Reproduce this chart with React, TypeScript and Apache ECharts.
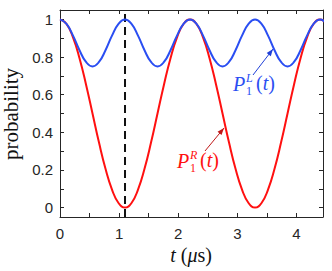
import React, { useEffect, useRef } from "react";
import * as echarts from "echarts";

// time samples (μs)
const T = [0, 0.11, 0.22, 0.33, 0.44, 0.55, 0.66, 0.77, 0.88, 0.99, 1.1, 1.21, 1.32, 1.43, 1.54, 1.65, 1.76, 1.87, 1.98, 2.09, 2.2, 2.31, 2.42, 2.53, 2.64, 2.75, 2.86, 2.97, 3.08, 3.19, 3.3, 3.41, 3.52, 3.63, 3.74, 3.85, 3.96, 4.07, 4.18, 4.29, 4.4, 4.51];
// P1^R(t)
const P_R = [1, 0.9755, 0.9045, 0.7939, 0.6545, 0.5, 0.3455, 0.2061, 0.0955, 0.0245, 0, 0.0245, 0.0955, 0.2061, 0.3455, 0.5, 0.6545, 0.7939, 0.9045, 0.9755, 1, 0.9755, 0.9045, 0.7939, 0.6545, 0.5, 0.3455, 0.2061, 0.0955, 0.0245, 0, 0.0245, 0.0955, 0.2061, 0.3455, 0.5, 0.6545, 0.7939, 0.9045, 0.9755, 1, 0.9755];
// P1^L(t)
const P_L = [1, 0.9761, 0.9136, 0.8364, 0.7739, 0.75, 0.7739, 0.8364, 0.9136, 0.9761, 1, 0.9761, 0.9136, 0.8364, 0.7739, 0.75, 0.7739, 0.8364, 0.9136, 0.9761, 1, 0.9761, 0.9136, 0.8364, 0.7739, 0.75, 0.7739, 0.8364, 0.9136, 0.9761, 1, 0.9761, 0.9136, 0.8364, 0.7739, 0.75, 0.7739, 0.8364, 0.9136, 0.9761, 1, 0.9761];
// dashed marker
const DASH_T = [1.1, 1.1];
const DASH_Y = [-0.05, 1.05];

const X_RANGE = [0, 4.45];
const Y_RANGE = [-0.05, 1.05];
const X_TICKS = [0, 0.5, 1, 1.5, 2, 2.5, 3, 3.5, 4];
const X_LABELS = [0, 1, 2, 3, 4];
const Y_TICKS = [0, 0.1, 0.2, 0.3, 0.4, 0.5, 0.6, 0.7, 0.8, 0.9, 1];
const Y_LABELS = [0, 0.2, 0.4, 0.6, 0.8, 1];

const AX = "#262626";
const RED = "#ff1010";
const BLUE = "#2a4ef2";
const SERIF = "'Liberation Serif', 'DejaVu Serif', serif";
const SANS = "'Liberation Sans', Arial, sans-serif";

function zip(a: number[], b: number[]) {
  return a.map((v, i) => [v, b[i]]);
}

function arrowHead(x1: number, y1: number, x2: number, y2: number, len: number, hw: number) {
  const dx = x2 - x1, dy = y2 - y1;
  const L = Math.hypot(dx, dy);
  const ux = dx / L, uy = dy / L;
  const bx = x2 - ux * len, by = y2 - uy * len;
  return [[x2, y2], [bx - uy * hw, by + ux * hw], [bx + uy * hw, by - ux * hw]];
}

function label(x: number, y: number, sup: string, color: string) {
  const els: any[] = [
    { type: "text", x: x, y: y, style: { text: "P", font: `italic 20px ${SERIF}`, fill: color, verticalAlign: "middle" } },
    { type: "text", x: x + 13, y: y - 6, style: { text: sup, font: `italic 12px ${SERIF}`, lineHeight: 12, fill: color, verticalAlign: "middle" } },
    { type: "text", x: x + 13, y: y + 7, style: { text: "1", font: `12px ${SERIF}`, lineHeight: 12, fill: color, verticalAlign: "middle" } },
    {
      type: "text", x: x + 23, y: y - 1,
      style: {
        text: "({i|t})", font: `20px ${SERIF}`, fill: color, verticalAlign: "middle",
        rich: { i: { font: `italic 20px ${SERIF}`, fill: color } },
      },
    },
  ];
  return els;
}

export default function App() {
  const ref = useRef<HTMLDivElement>(null);
  useEffect(() => {
    if (!ref.current) return;
    const chart = echarts.init(ref.current, null, { renderer: "svg" });
    const axisCommon = {
      type: "value" as const,
      axisLine: { show: true, onZero: false, lineStyle: { color: AX, width: 1 } },
      splitLine: { show: false },
    };
    const redArrow = [[205, 151], [224, 128]];
    const blueArrow = [[253, 75], [273, 49]];
    chart.setOption({
      animation: false,
      grid: { left: 60, right: 9, top: 10, bottom: 54 },
      xAxis: [
        {
          ...axisCommon, position: "bottom", min: X_RANGE[0], max: X_RANGE[1],
          axisTick: { show: true, inside: true, length: 4, customValues: X_TICKS, lineStyle: { color: AX } },
          axisLabel: { customValues: X_LABELS, color: AX, fontSize: 15, fontFamily: SANS, margin: 9 },
        },
        {
          ...axisCommon, position: "top", min: X_RANGE[0], max: X_RANGE[1],
          axisTick: { show: true, inside: true, length: 4, customValues: X_TICKS, lineStyle: { color: AX } },
          axisLabel: { show: false },
        },
      ],
      yAxis: [
        {
          ...axisCommon, position: "left", min: Y_RANGE[0], max: Y_RANGE[1],
          axisTick: { show: true, inside: true, length: 4, customValues: Y_TICKS, lineStyle: { color: AX } },
          axisLabel: { customValues: Y_LABELS, color: AX, fontSize: 15, fontFamily: SANS, margin: 7 },
        },
        {
          ...axisCommon, position: "right", min: Y_RANGE[0], max: Y_RANGE[1],
          axisTick: { show: true, inside: true, length: 4, customValues: Y_TICKS, lineStyle: { color: AX } },
          axisLabel: { show: false },
        },
      ],
      series: [
        {
          type: "line", data: zip(DASH_T, DASH_Y), symbol: "none",
          lineStyle: { color: "#111", width: 2, type: [8, 5] }, z: 1,
        },
        {
          type: "line", data: zip(T, P_R), symbol: "none", smooth: true,
          lineStyle: { color: RED, width: 2 }, z: 2,
        },
        {
          type: "line", data: zip(T, P_L), symbol: "none", smooth: true,
          lineStyle: { color: BLUE, width: 2 }, z: 3,
        },
      ],
      graphic: [
        {
          type: "text", x: 11, y: 114, rotation: Math.PI / 2,
          style: { text: "probability", font: `21px ${SERIF}`, fill: "#111", align: "center", verticalAlign: "middle" },
        },
        {
          type: "text", x: 191, y: 255,
          style: {
            text: "{i|t} ({i|μ}s)", font: `20px ${SERIF}`, fill: "#111", align: "center", verticalAlign: "middle",
            rich: { i: { font: `italic 20px ${SERIF}`, fill: "#111" } },
          },
        },
        { type: "line", shape: { x1: redArrow[0][0], y1: redArrow[0][1], x2: redArrow[1][0], y2: redArrow[1][1] }, style: { stroke: "#c01818", lineWidth: 1 } },
        { type: "polygon", shape: { points: arrowHead(redArrow[0][0], redArrow[0][1], redArrow[1][0], redArrow[1][1], 7, 2.6) }, style: { fill: "#c01818" } },
        { type: "line", shape: { x1: blueArrow[0][0], y1: blueArrow[0][1], x2: blueArrow[1][0], y2: blueArrow[1][1] }, style: { stroke: "#2040d8", lineWidth: 1 } },
        { type: "polygon", shape: { points: arrowHead(blueArrow[0][0], blueArrow[0][1], blueArrow[1][0], blueArrow[1][1], 7, 2.6) }, style: { fill: "#2040d8" } },
        ...label(177, 161, "R", RED),
        ...label(233, 84, "L", BLUE),
      ],
    });
    return () => chart.dispose();
  }, []);
  return <div ref={ref} style={{ width: 332, height: 271, position: "absolute", left: 0, top: 0 }} />;
}
